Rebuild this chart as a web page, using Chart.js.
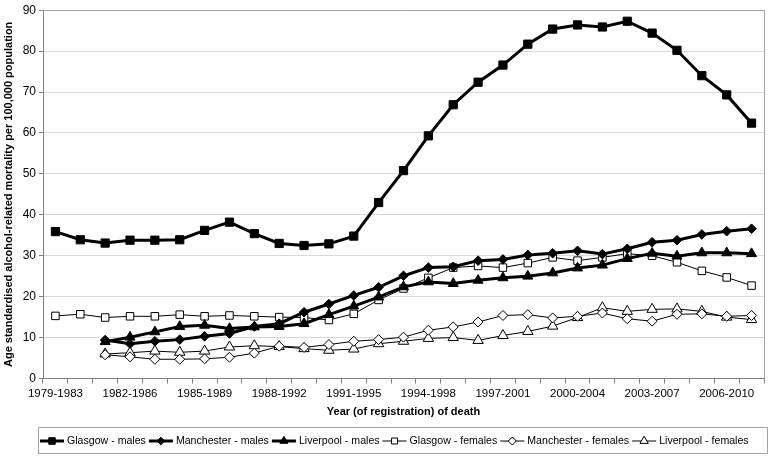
<!DOCTYPE html>
<html>
<head>
<meta charset="utf-8">
<script src="https://cdn.jsdelivr.net/npm/chart.js@4.4.1/dist/chart.umd.min.js"></script>
<style>
  html, body { margin: 0; padding: 0; background: #fff; }
</style>
</head>
<body>
<canvas id="chart" width="771" height="456"></canvas>
<script>
// 5-year rolling periods
const periods = [
  "1979-1983", "1980-1984", "1981-1985", "1982-1986", "1983-1987", "1984-1988",
  "1985-1989", "1986-1990", "1987-1991", "1988-1992", "1989-1993", "1990-1994",
  "1991-1995", "1992-1996", "1993-1997", "1994-1998", "1995-1999", "1996-2000",
  "1997-2001", "1998-2002", "1999-2003", "2000-2004", "2001-2005", "2002-2006",
  "2003-2007", "2004-2008", "2005-2009", "2006-2010", "2007-2011"
]
const yTicks = [0, 10, 20, 30, 40, 50, 60, 70, 80, 90]

const glasgowMales = [35.9, 33.9, 33.1, 33.8, 33.8, 33.9, 36.2, 38.2, 35.4, 33.0, 32.5, 32.9, 34.8, 43.0, 50.8,
  59.3, 66.9, 72.4, 76.6, 81.7, 85.4, 86.4, 85.9, 87.3, 84.4, 80.2, 74.0, 69.3, 62.4]
const manchesterMales = [null, null, 9.4, 8.5, 9.1, 9.5, 10.3, 11.0, 12.7, 13.4, 16.2, 18.2, 20.3, 22.3, 25.1,
  27.1, 27.3, 28.8, 29.1, 30.2, 30.6, 31.2, 30.4, 31.7, 33.3, 33.8, 35.2, 36.0, 36.6]
const liverpoolMales = [null, null, 9.0, 10.1, 11.4, 12.7, 13.0, 12.2, 12.6, 12.7, 13.4, 15.6, 17.7, 19.9, 22.4,
  23.6, 23.2, 24.0, 24.6, 25.0, 25.8, 27.0, 27.7, 29.3, 30.6, 29.9, 30.7, 30.7, 30.5]
const glasgowFemales = [15.3, 15.7, 14.9, 15.2, 15.2, 15.6, 15.2, 15.4, 15.2, 15.0, 14.9, 14.3, 15.8, 19.2, 22.0,
  24.6, 27.1, 27.5, 27.1, 28.2, 29.6, 28.8, 29.6, 30.5, 30.0, 28.4, 26.3, 24.7, 22.7]
const manchesterFemales = [null, null, 5.8, 5.3, 4.7, 4.7, 4.8, 5.2, 6.2, 7.9, 7.6, 8.3, 9.1, 9.5, 10.1,
  11.8, 12.6, 13.8, 15.4, 15.6, 14.8, 15.2, 16.0, 14.6, 14.0, 15.7, 15.8, 15.2, 15.4]
const liverpoolFemales = [null, null, 6.0, 6.3, 6.7, 6.4, 6.7, 7.7, 8.0, 7.8, 7.3, 6.9, 7.2, 8.5, 9.1,
  9.8, 10.0, 9.3, 10.5, 11.5, 12.8, 14.9, 17.3, 16.4, 16.9, 17.0, 16.4, 15.0, 14.4]

const FONT = '"Liberation Sans", Arial, sans-serif'

const series = (label, data, style, radius, male) => ({
  label: label,
  data: data,
  borderColor: "#000",
  borderWidth: male ? 3 : 1,
  pointStyle: style,
  pointRadius: radius,
  pointHoverRadius: radius,
  pointBackgroundColor: male ? "#000" : "#fff",
  pointBorderColor: "#000",
  pointBorderWidth: 1,
  tension: 0,
  spanGaps: true,
})

// grey frame round the plot area (top and right edges)
const frame = {
  id: "frame",
  afterDatasetsDraw(chart) {
    const { ctx, chartArea: a } = chart
    ctx.save()
    ctx.strokeStyle = "#a6a6a6"
    ctx.lineWidth = 1
    ctx.beginPath()
    ctx.moveTo(a.left, Math.round(a.top) + 0.5)
    ctx.lineTo(Math.round(a.right) + 0.5, Math.round(a.top) + 0.5)
    ctx.lineTo(Math.round(a.right) + 0.5, a.bottom)
    ctx.stroke()
    ctx.restore()
  },
}

// boxed legend, line + marker like the original
const boxLegend = {
  id: "boxLegend",
  afterDraw(chart) {
    const ctx = chart.ctx
    ctx.save()
    ctx.strokeStyle = "#a6a6a6"
    ctx.lineWidth = 1
    ctx.strokeRect(38.5, 427.5, 729, 26)
    ctx.font = "10.6px " + FONT
    ctx.textBaseline = "middle"
    let x = 40
    const y = 441
    chart.data.datasets.forEach(ds => {
      ctx.strokeStyle = "#000"
      ctx.lineWidth = ds.borderWidth
      ctx.beginPath()
      ctx.moveTo(x, y)
      ctx.lineTo(x + 24, y)
      ctx.stroke()
      ctx.fillStyle = ds.pointBackgroundColor
      ctx.strokeStyle = "#000"
      ctx.lineWidth = 1
      if (Chart.helpers && Chart.helpers.drawPoint) {
        Chart.helpers.drawPoint(ctx, {
          pointStyle: ds.pointStyle,
          radius: ds.pointRadius * 0.8,
          borderWidth: 1,
          rotation: 0,
        }, x + 12, y)
      }
      ctx.fillStyle = "#000"
      ctx.fillText(ds.label, x + 27, y + 0.5)
      x += 27 + ctx.measureText(ds.label).width + 3
    })
    ctx.restore()
  },
}

new Chart(document.getElementById("chart"), {
  type: "line",
  data: {
    labels: periods,
    datasets: [
      series("Glasgow - males", glasgowMales, "rect", 5.8, true),
      series("Manchester - males", manchesterMales, "rectRot", 4.8, true),
      series("Liverpool - males", liverpoolMales, "triangle", 5.8, true),
      series("Glasgow - females", glasgowFemales, "rect", 5.3, false),
      series("Manchester - females", manchesterFemales, "rectRot", 5, false),
      series("Liverpool - females", liverpoolFemales, "triangle", 6, false),
    ],
  },
  options: {
    responsive: false,
    animation: false,
    layout: { padding: { left: 0, right: 2, top: 7, bottom: 36 } },
    plugins: {
      legend: { display: false },
      tooltip: { enabled: false },
    },
    scales: {
      x: {
        offset: true,
        grid: {
          offset: true,
          drawOnChartArea: false,
          drawTicks: true,
          tickLength: 5,
          tickColor: "#808080",
        },
        border: { color: "#808080", width: 1 },
        ticks: {
          autoSkip: false,
          maxRotation: 0,
          padding: 3,
          color: "#000",
          font: { family: FONT, size: 11.5 },
          callback: (v, i) => (i % 3 === 0 ? periods[i] : ""),
        },
        title: {
          display: true,
          text: "Year (of registration) of death",
          color: "#000",
          font: { family: FONT, size: 11, weight: "bold" },
          padding: { top: 0, bottom: 1 },
        },
        afterFit: s => { s.height = 41.5 },
      },
      y: {
        min: 0,
        max: 90,
        afterBuildTicks: s => { s.ticks = yTicks.map(v => ({ value: v })) },
        grid: {
          color: c => (c.tick && (c.tick.value === 0 || c.tick.value === 90) ? "rgba(0,0,0,0)" : "#d9d9d9"),
          tickColor: "#808080",
          tickLength: 4,
        },
        border: { color: "#808080", width: 1 },
        ticks: {
          padding: 3,
          color: "#000",
          font: { family: FONT, size: 12 },
        },
        title: {
          display: true,
          text: "Age standardised alcohol-related mortality per 100,000 population",
          color: "#000",
          font: { family: FONT, size: 11, weight: "bold" },
          padding: { top: 2, bottom: 0 },
        },
        afterFit: s => { s.width = 43 },
      },
    },
  },
  plugins: [frame, boxLegend],
})
</script>
</body>
</html>
